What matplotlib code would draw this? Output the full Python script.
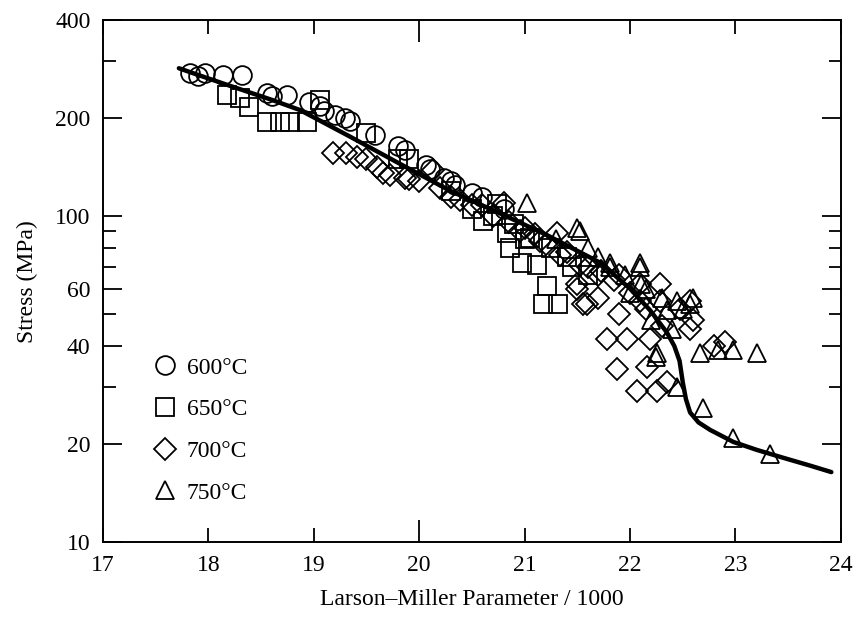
import numpy as np
import matplotlib
matplotlib.use("Agg")
from matplotlib import pyplot as plt
from matplotlib.ticker import FixedLocator, NullFormatter, FixedFormatter

plt.rcParams['font.family'] = ['Liberation Serif', 'DejaVu Serif']

# fitted master curve
curve_x = [17.72, 17.9, 18.2, 18.6, 18.87, 19.34, 19.8, 20.29, 20.77, 21.2, 21.72,
           22.0, 22.19, 22.35, 22.42, 22.47, 22.50, 22.53, 22.57, 22.65, 22.76,
           22.98, 23.2, 23.44, 23.7, 23.91]
curve_y = [285, 272, 252, 228, 212, 176, 146, 120, 102, 88, 72,
           60, 51.5, 44, 40, 36, 31, 27.5, 25, 23.3, 22.1,
           20.3, 19.2, 18.2, 17.2, 16.4]

# 600 C
c600_x = [17.83, 17.97, 18.14, 18.32, 18.56, 18.75, 18.95, 19.06, 19.3, 19.34,
          19.58, 19.8, 19.87, 20.06, 20.1, 20.24, 20.34, 20.5, 18.6, 17.9,
          20.3, 20.6, 20.8, 19.1, 19.2]
c600_y = [275, 276, 271, 272, 240, 236, 225, 218, 200, 196,
          178, 165, 160, 144, 140, 131, 125, 118, 235, 270,
          128, 115, 105, 210, 205]

# 650 C
c650_x = [18.18, 18.30, 18.39, 18.56, 18.68, 18.77, 18.94, 19.06, 19.5, 19.9,
          20.3, 20.61, 20.74, 20.83, 20.86, 20.98, 21.12, 21.17, 21.21, 21.32,
          20.9, 21.0, 21.4, 20.5, 20.7, 21.05, 21.25, 21.45, 21.6, 19.8]
c650_y = [236, 231, 217, 195, 195, 195, 195, 228, 180, 150,
          120, 97, 109, 89, 80, 72, 71, 54, 61, 54,
          95, 85, 75, 105, 100, 86, 80, 70, 66, 150]

# 700 C
c700_x = [19.18, 19.31, 19.41, 19.66, 19.72, 19.87, 20.13, 20.39, 20.6, 20.80,
          20.96, 21.15, 21.31, 21.34, 21.50, 21.53, 21.55, 21.59, 21.72, 21.78,
          21.9, 21.97, 21.88, 22.07, 22.09, 22.09, 22.16, 22.19, 22.26, 22.28,
          22.28, 22.35, 22.47, 22.57, 22.60, 22.57, 22.8, 22.9,
          19.5, 19.6, 19.9, 20.0, 20.2, 20.3, 20.5, 20.7, 20.85, 21.0,
          21.1, 21.2, 21.4, 21.6, 21.7, 21.85, 22.0, 22.15, 22.3,
          21.5, 21.7, 21.9]
c700_y = [156, 156, 152, 136, 134, 131, 139, 112, 108, 110,
          90, 84, 89, 76, 62, 71, 54, 54, 68, 42,
          66, 42, 34, 29, 55, 62, 34.5, 42, 29, 62,
          55, 31, 52, 55, 48, 45, 40, 41,
          150, 142, 130, 128, 122, 115, 108, 100, 96, 92,
          88, 82, 78, 70, 66, 64, 58, 52, 46,
          60, 56, 50]

# 750 C
c750_x = [21.02, 21.5, 21.53, 21.81, 21.81, 22.0, 22.09, 22.09, 22.25, 22.26,
          22.35, 22.45, 22.45, 22.57, 22.66, 22.69, 22.83, 22.98, 22.98, 23.2,
          23.33, 21.3, 21.6, 21.7, 21.95, 22.15, 22.3, 22.5, 22.6, 22.2,
          22.4, 22.1]
c750_y = [110, 92, 90, 72, 70, 58, 72, 70, 37, 38,
          51.5, 55, 30, 54, 38, 25.8, 38.8, 38.8, 20.8, 38,
          18.7, 85, 80, 75, 66, 60, 56, 52, 56, 48,
          45, 62]

fig = plt.figure(figsize=(8.58, 6.34), dpi=100)
ax = fig.add_axes([0.120, 0.145, 0.860, 0.823])

ax.plot(curve_x, curve_y, color='black', lw=3.2, zorder=5, solid_capstyle='round')

mk = dict(ls='none', mfc='none', mec='black', mew=1.3, ms=13.5)
ax.plot(c600_x, c600_y, marker='o', label='600°C', **mk)
ax.plot(c650_x, c650_y, marker='s', label='650°C', **dict(mk, ms=13))
ax.plot(c700_x, c700_y, marker='D', label='700°C', **dict(mk, ms=11.5))
ax.plot(c750_x, c750_y, marker='^', label='750°C', **mk)

ax.set_yscale('log')
ax.set_xlim(17, 24)
ax.set_ylim(10, 400)

xt = list(range(17, 25))
ax.set_xticks(xt)
ax.set_xticklabels([str(v) for v in xt])

yt = [10, 20, 40, 60, 100, 200, 400]
ax.yaxis.set_major_locator(FixedLocator(yt))
ax.yaxis.set_major_formatter(FixedFormatter([str(v) for v in yt]))
ax.yaxis.set_minor_locator(FixedLocator([30, 50, 70, 80, 90, 300]))
ax.yaxis.set_minor_formatter(NullFormatter())

ax.tick_params(which='both', direction='in', top=True, right=True, labelsize=17,
               width=1.3, pad=9)
ax.tick_params(axis='x', which='major', length=10)
ax.tick_params(axis='y', which='major', length=14)
ax.tick_params(which='minor', length=9)
# the tick at 20 is drawn longer
for t in ax.xaxis.get_major_ticks():
    if abs(t.get_loc() - 20) < 1e-6:
        t.tick1line.set_markersize(16)
        t.tick2line.set_markersize(16)
for s in ax.spines.values():
    s.set_linewidth(1.4)

ax.set_xlabel('Larson–Miller Parameter / 1000', fontsize=17, labelpad=10)
ax.set_ylabel('Stress (MPa)', fontsize=17, labelpad=12)

ax.legend(loc='lower left', bbox_to_anchor=(0.027, 0.015), frameon=False, fontsize=17,
          handlelength=1.0, handletextpad=0.4, labelspacing=0.85, borderpad=0.8,
          markerscale=1.0)

fig.savefig('out.png', dpi=100)
